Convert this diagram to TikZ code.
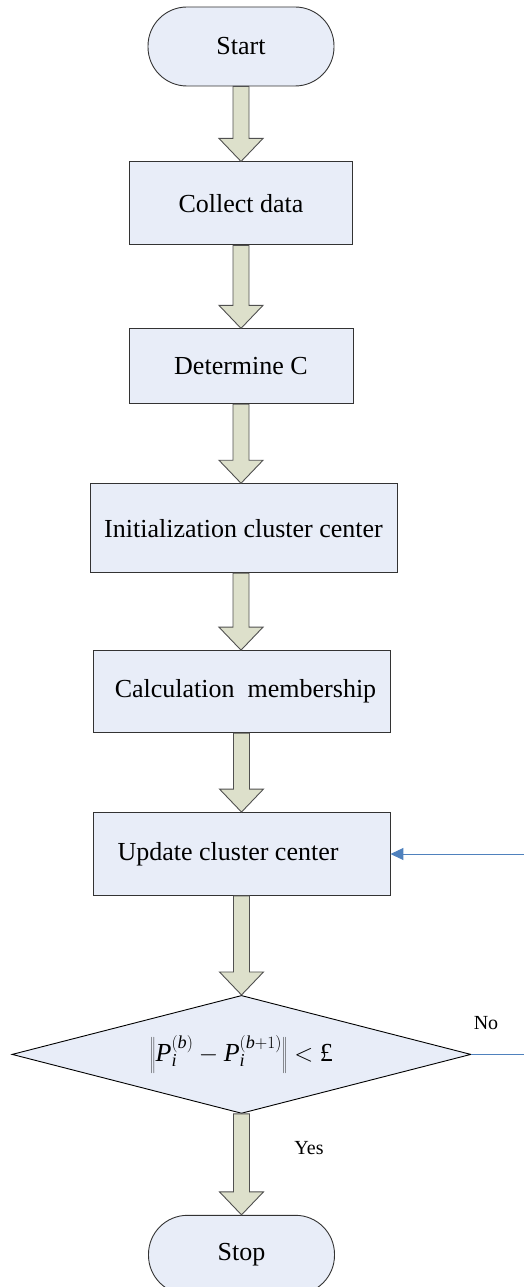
\documentclass[tikz,border=0pt]{standalone}
\usepackage{fontspec}
\setmainfont{Liberation Serif}
\usetikzlibrary{arrows.meta,positioning,shapes.geometric,calc}
\definecolor{boxfill}{HTML}{E8EDF8}
\definecolor{boxline}{HTML}{333333}
\definecolor{arrfill}{HTML}{DDE0CB}
\definecolor{arrline}{HTML}{505050}
\definecolor{loopblue}{HTML}{4F81BD}
\newcommand{\boxfont}{\fontsize{26}{30}\selectfont}
\newcommand{\labfont}{\fontsize{20}{24}\selectfont}
% hollow block arrow from the bottom of #1 to the top of #2
\newcommand{\bigarr}[2]{%
  \coordinate (ba-s) at (#1.south);
  \coordinate (ba-t) at (#1.south |- #2.north);
  \draw[fatarr] ($(ba-s)+(-8,0)$) -- ($(ba-t)+(-8,23)$) -- ($(ba-t)+(-22,23)$)
    -- (ba-t) -- ($(ba-t)+(22,23)$) -- ($(ba-t)+(8,23)$) -- ($(ba-s)+(8,0)$) -- cycle;}

\begin{document}
\begin{tikzpicture}[
  x=1pt, y=1pt,
  term/.style={draw=boxline, fill=boxfill, line width=0.9pt, rounded corners=39pt,
    minimum width=186pt, minimum height=79pt, inner sep=0pt, font=\boxfont},
  box/.style={draw=boxline, fill=boxfill, line width=0.9pt,
    minimum height=83pt, inner sep=0pt, font=\boxfont},
  dec/.style={diamond, aspect=3.89, draw=black, fill=boxfill, line width=0.9pt,
    minimum width=459pt, minimum height=118pt, inner sep=0pt, font=\boxfont},
  fatarr/.style={draw=arrline, fill=arrfill, line width=0.9pt, line join=miter},
  fbarr/.style={-{Triangle[length=13pt, width=12pt]}, draw=loopblue, line width=1pt},
  fbline/.style={draw=loopblue, line width=1pt},
  lab/.style={font=\labfont, inner sep=0pt}
]
\useasboundingbox (0,0) rectangle (524,-1287);
\coordinate (rim) at (524,0);

\node[term] (start) at (241,-46.5) {Start};
\node[box, minimum width=223pt, below=75pt of start] (collect) {Collect data};
\node[box, minimum width=224pt, minimum height=75pt, below=83pt of collect] (detc) {Determine C};
\node[box, minimum width=307pt, minimum height=89pt, below=79pt of detc, xshift=2.5pt] (init)
  {Initialization cluster center};
\node[box, minimum width=297pt, minimum height=82pt, below=77pt of init, xshift=-2pt] (calc)
  {\kern8pt Calculation~ membership};
\node[box, minimum width=297pt, below=79pt of calc] (update) {Update cluster center\kern27pt};
\node[dec, below=99pt of update] (test)
  {$\left\|\mathit{P}_{\mathit{i}}^{(\mathit{b})} - \mathit{P}_{\mathit{i}}^{(\mathit{b}+1)}\right\| <$ £};
\node[term, below=101pt of test] (stop) {Stop};

\bigarr{start}{collect}
\bigarr{collect}{detc}
\bigarr{detc}{init}
\bigarr{calc}{update}
\bigarr{update}{test}
\bigarr{test}{stop}
\coordinate (ba-s) at (241,0 |- init.south);
\coordinate (ba-t) at (241,0 |- calc.north);
\draw[fatarr] ($(ba-s)+(-8,0)$) -- ($(ba-t)+(-8,23)$) -- ($(ba-t)+(-22,23)$)
  -- (ba-t) -- ($(ba-t)+(22,23)$) -- ($(ba-t)+(8,23)$) -- ($(ba-s)+(8,0)$) -- cycle;

% loop back
\coordinate (fbin) at (update.east -| rim);
\draw[fbarr] (fbin) -- (update.east);
\coordinate (noend) at (test.east -| rim);
\draw[fbline] (test.east) -- (noend);
\node[lab] (no) at (486,-1023) {No};
\node[lab] (yes) at (309,-1148) {Yes};
\end{tikzpicture}
\end{document}
